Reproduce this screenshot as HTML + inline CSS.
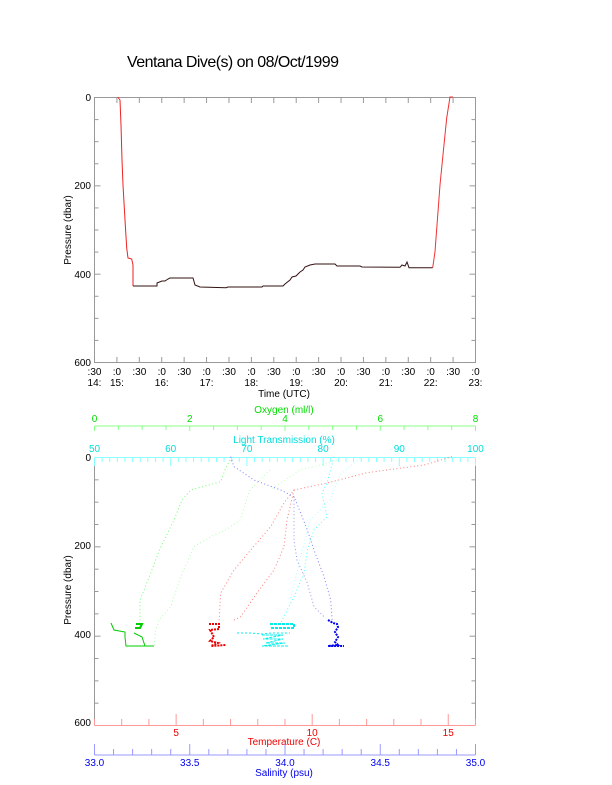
<!DOCTYPE html>
<html><head><meta charset="utf-8"><style>
html,body{margin:0;padding:0;background:#fff;}
svg{display:block;font-family:"Liberation Sans",sans-serif;}
</style></head><body>
<svg id="s" width="612" height="785" viewBox="0 0 612 785" xmlns="http://www.w3.org/2000/svg">
<text x="127" y="67" font-size="16" fill="#000" textLength="212">Ventana Dive(s) on 08/Oct/1999</text>
<g id="ax" stroke="#999" stroke-width="1" fill="none">
<rect x="94.5" y="97.5" width="381" height="265"/>
<line x1="94.5" y1="457.5" x2="94.5" y2="725.5"/>
<line x1="475.5" y1="457.5" x2="475.5" y2="725.5"/>
</g>
<g font-size="10" fill="#000">
<text x="91" y="101" text-anchor="end">0</text>
<text x="91" y="189" text-anchor="end">200</text>
<text x="91" y="278" text-anchor="end">400</text>
<text x="91" y="366" text-anchor="end">600</text>
<text x="91" y="461" text-anchor="end">0</text>
<text x="91" y="549" text-anchor="end">200</text>
<text x="91" y="638" text-anchor="end">400</text>
<text x="91" y="726" text-anchor="end">600</text>
<text transform="translate(71,230) rotate(-90)" text-anchor="middle">Pressure (dbar)</text>
<text transform="translate(71,590) rotate(-90)" text-anchor="middle">Pressure (dbar)</text>
<text x="284" y="397" text-anchor="middle">Time (UTC)</text>
</g>
</svg>
<script>
const s=document.getElementById('s'),NS='http://www.w3.org/2000/svg';
function el(t,a,p){const e=document.createElementNS(NS,t);for(const k in a)e.setAttribute(k,a[k]);(p||s).appendChild(e);return e;}
function ln(x1,y1,x2,y2,c,w){el('line',{x1,y1,x2,y2,stroke:c,'stroke-width':w||1});}
function tx(x,y,t,c,fs,anc){const e=el('text',{x,y,fill:c,'font-size':fs||10,'text-anchor':anc||'middle'});e.textContent=t;}
for(let p=0;p<=600;p+=50){
 const maj=p%200==0,L=maj?6:4;
 let y=97.5+p*0.4417;ln(94.5,y,94.5+L,y,'#999');ln(475.5,y,475.5-L,y,'#999');
 y=457.5+p*0.4467;ln(94.5,y,94.5+L,y,'#999');ln(475.5,y,475.5-L,y,'#999');
}
const dx=381/17;
for(let i=0;i<=17;i++){
 const x=94.5+i*dx;ln(x,97.5,x,103,'#999');ln(x,362.5,x,357,'#999');
 const half=(i%2==0);
 tx(x,375,half?':30':':0','#000');
 if(!half||i==0){const h=14+Math.floor((i+1)/2);tx(x,386,h+':','#000');}
}
// top trace
el('polyline',{points:'117.7,97 120,100 121,125 122,160 123,185 125,220 126.7,248 128,258 131.7,259 133,265 133,286',fill:'none',stroke:'#e22',"stroke-width":1});
el('polyline',{points:'133,286 157,286 157,283 162,281 165,281 168,279 170,278 193,278 195,285 200,287 226,287.7 228,287 262,287 263,286 283,286 285,284 290,280 292,277 296,276 300,272 303,270 305,267 310,265 315,264 335,264 337,266 360,266 362,267 400,267.3 402,265 405,266 407,262 409,267.7 432.7,267.7',fill:'none',stroke:'#311',"stroke-width":1});
el('polyline',{points:'432.7,267.7 435,251.7 440,185 443.3,151.7 446.7,118 450,97 453,97',fill:'none',stroke:'#e33',"stroke-width":1});
// oxygen axis
ln(94.5,426,475.5,426,'#8f8');
for(let i=0;i<=16;i++){const x=94.5+i*381/16,maj=i%4==0;ln(x,426,x,maj?431:430,'#8f8');}
[0,2,4,6,8].forEach((v,i)=>tx(94.5+i*95.25,422,v,'#0d0'));
tx(284,413,'Oxygen (ml/l)','#0d0');
// light axis
ln(94.5,457.5,475.5,457.5,'#8ff');
for(let i=0;i<=50;i++){const x=94.5+i*381/50;ln(x,457.5,x,i%10==0?466:462,'#8ff');}
[50,60,70,80,90,100].forEach((v,i)=>tx(94.5+i*76.2,452,v,'#0dd'));
tx(284,443,'Light Transmission (%)','#0dd');
// temperature axis
ln(94.5,725.5,475.5,725.5,'#f99');
for(let t=2;t<=16;t++){const x=94.5+(t-2)*27.21;ln(x,725.5,x,t%5==0?714:719,'#f99');}
[5,10,15].forEach(t=>tx(94.5+(t-2)*27.21,736,t,'#e00'));
tx(284,745,'Temperature (C)','#e00');
// salinity axis
ln(94.5,755,475.5,755,'#99f');
for(let i=0;i<=20;i++){const x=94.5+i*381/20;ln(x,755,x,i%5==0?744:749,'#99f');}
['33.0','33.5','34.0','34.5','35.0'].forEach((v,i)=>tx(94.5+i*95.25,766,v,'#00e'));
tx(284,776,'Salinity (psu)','#00e');
function dl(pts,c,op){el('polyline',{points:pts,fill:'none',stroke:c,'stroke-width':1,'stroke-dasharray':'1 2.5',opacity:op||0.7});}
dl('230,460 225,470 220.7,481.7 190.7,490 182,500 174,520 160.7,547 150.7,573 142,595 140,600 140,623','#3f3');
dl('270,470 250,490 240,520 225.7,530 210.7,536.7 194,546.7 180.7,576.7 170.7,606.7 159,620 155.7,630 154,646.7','#6f6',0.5);
dl('340,460 300,470 270,490','#6f6',0.4);
dl('452,456.7 424,465 367,472.7 327,483 294,490 284,503 270.7,526.7 250.7,550 234,570 220.7,593 219,623','#f44');
dl('294,490 287,520 284,546.7 274,570 257,593 240.7,616.7 234,620','#f44');
dl('230.7,456.7 234,466.7 254,480 280.7,490 294,496.7 300.7,513 307.3,530 314,550 324,576.7 330.7,600 332.3,623','#44f');
dl('294,496.7 294,540 297,560 307.3,583 314,606.7 324,616.7','#66f');
dl('334,456.7 327,483 322,493 327,516.7 314,530 307.3,550 304,573 294,596.7 280.7,623','#0ff');
dl('360,458 340,475 330,500 310,520 300,560 290,600','#6ff',0.5);
function bl(pts,c,w,d){el('polyline',{points:pts,fill:'none',stroke:c,'stroke-width':w||1,'stroke-dasharray':d||'none'});}
bl('111,623 114,630 125,632 125,637 126,646 145,646','#0c0',1);
bl('136,624 142,624 140,628 135,628','#0c0',2);
bl('134,633 142,637 145,646 154,646','#0c0',1);
bl('209,624 219,624 219,629 210,630 214,637 210,641 218,643 211,646 226,645','#e00',2,'2 1');
bl('237,633 250,633 262,634 272,633 290,633','#0ee',1,'2 2');
bl('270,624 294,624 294,628 270,628','#0ee',2,'3 1');
bl('262,635 283,635 263,639 283,639 266,643 285,643 262,646 288,646','#0ee',1,'3 1');
bl('328,620 333,623 337,624 338,627 335,632 338,637 335,642 338,645 328,646 344,646','#00e',2,'2 1');
</script>
</body></html>
